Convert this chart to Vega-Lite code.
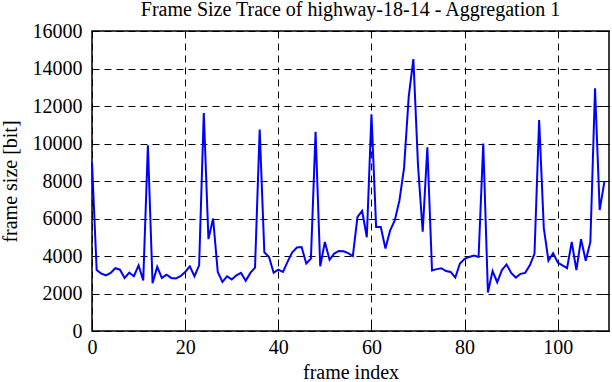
{
"$schema": "https://vega.github.io/schema/vega-lite/v6.json",
"width": 517, "height": 300,
"autosize": {"type": "none"},
"padding": {"left": 92, "top": 31, "right": 3, "bottom": 51},
"background": "white",
"title": {"text": "Frame Size Trace of highway-18-14 - Aggregation 1", "font": "Liberation Serif", "fontSize": 20, "fontWeight": "normal", "color": "black", "anchor": "middle", "frame": "group", "baseline": "alphabetic", "offset": -15},
"data": {"values": [
{"i":0,"v":9000},{"i":1,"v":3250},{"i":2,"v":3060},{"i":3,"v":2970},{"i":4,"v":3100},{"i":5,"v":3350},{"i":6,"v":3270},{"i":7,"v":2830},{"i":8,"v":3110},{"i":9,"v":2920},
{"i":10,"v":3500},{"i":11,"v":2700},{"i":12,"v":9900},{"i":13,"v":2550},{"i":14,"v":3420},{"i":15,"v":2830},{"i":16,"v":3000},{"i":17,"v":2830},{"i":18,"v":2800},{"i":19,"v":2920},
{"i":20,"v":3150},{"i":21,"v":3450},{"i":22,"v":2920},{"i":23,"v":3500},{"i":24,"v":11630},{"i":25,"v":4900},{"i":26,"v":6000},{"i":27,"v":3150},{"i":28,"v":2620},{"i":29,"v":2920},
{"i":30,"v":2750},{"i":31,"v":2970},{"i":32,"v":3100},{"i":33,"v":2680},{"i":34,"v":3100},{"i":35,"v":3380},{"i":36,"v":10740},{"i":37,"v":4200},{"i":38,"v":3950},{"i":39,"v":3110},
{"i":40,"v":3270},{"i":41,"v":3150},{"i":42,"v":3700},{"i":43,"v":4200},{"i":44,"v":4450},{"i":45,"v":4480},{"i":46,"v":3600},{"i":47,"v":3860},{"i":48,"v":10620},{"i":49,"v":3450},
{"i":50,"v":4750},{"i":51,"v":3800},{"i":52,"v":4130},{"i":53,"v":4270},{"i":54,"v":4250},{"i":55,"v":4150},{"i":56,"v":4000},{"i":57,"v":6080},{"i":58,"v":6400},{"i":59,"v":5000},
{"i":60,"v":11560},{"i":61,"v":5550},{"i":62,"v":5550},{"i":63,"v":4400},{"i":64,"v":5350},{"i":65,"v":5900},{"i":66,"v":6950},{"i":67,"v":8700},{"i":68,"v":12500},{"i":69,"v":14500},
{"i":70,"v":8800},{"i":71,"v":5300},{"i":72,"v":9800},{"i":73,"v":3230},{"i":74,"v":3300},{"i":75,"v":3350},{"i":76,"v":3200},{"i":77,"v":3150},{"i":78,"v":2850},{"i":79,"v":3600},
{"i":80,"v":3850},{"i":81,"v":3950},{"i":82,"v":4020},{"i":83,"v":3950},{"i":84,"v":10000},{"i":85,"v":2050},{"i":86,"v":3200},{"i":87,"v":2600},{"i":88,"v":3250},{"i":89,"v":3550},
{"i":90,"v":3100},{"i":91,"v":2850},{"i":92,"v":3050},{"i":93,"v":3100},{"i":94,"v":3500},{"i":95,"v":4120},{"i":96,"v":11250},{"i":97,"v":5500},{"i":98,"v":3750},{"i":99,"v":4150},
{"i":100,"v":3650},{"i":101,"v":3500},{"i":102,"v":3350},{"i":103,"v":4750},{"i":104,"v":3250},{"i":105,"v":4900},{"i":106,"v":3750},{"i":107,"v":4750},{"i":108,"v":12950},{"i":109,"v":6450},
{"i":110,"v":7950}
]},
"layer": [
{"mark": {"type": "line", "color": "#0000ff", "strokeWidth": 2},
 "encoding": {
  "x": {"field": "i", "type": "quantitative", "scale": {"domain": [0, 111], "nice": false, "zero": false},
        "axis": {"orient": "bottom", "values": [0, 20, 40, 60, 80, 100], "title": "frame index", "format": "d", "grid": true, "labelPadding": 12, "titlePadding": 5}},
  "y": {"field": "v", "type": "quantitative", "scale": {"domain": [0, 16000], "nice": false},
        "axis": {"orient": "left", "values": [0, 2000, 4000, 6000, 8000, 10000, 12000, 14000, 16000], "title": "frame size [bit]", "format": "d", "grid": true, "labelPadding": 16, "titlePadding": 12}}
 }},
{"mark": {"type": "line", "opacity": 0},
 "encoding": {
  "x": {"field": "i", "type": "quantitative", "scale": {"domain": [0, 111], "nice": false, "zero": false},
        "axis": {"orient": "top", "values": [0, 20, 40, 60, 80, 100], "title": null, "labels": false, "grid": false}},
  "y": {"field": "v", "type": "quantitative", "scale": {"domain": [0, 16000], "nice": false},
        "axis": {"orient": "right", "values": [0, 2000, 4000, 6000, 8000, 10000, 12000, 14000, 16000], "title": null, "labels": false, "grid": false}}
 }}
],
"resolve": {"axis": {"x": "independent", "y": "independent"}},
"config": {
 "view": {"stroke": "black", "strokeWidth": 1.5},
 "axis": {"labelFont": "Liberation Serif", "labelFontSize": 20, "labelColor": "black", "labelFlush": false, "labelOverlap": false,
          "titleFont": "Liberation Serif", "titleFontSize": 20, "titleFontWeight": "normal", "titleColor": "black",
          "domain": false, "ticks": true, "tickColor": "black", "tickSize": -6, "tickWidth": 1,
          "gridColor": "black", "gridDash": [7, 5], "gridOpacity": 1, "gridWidth": 1}
}
}
